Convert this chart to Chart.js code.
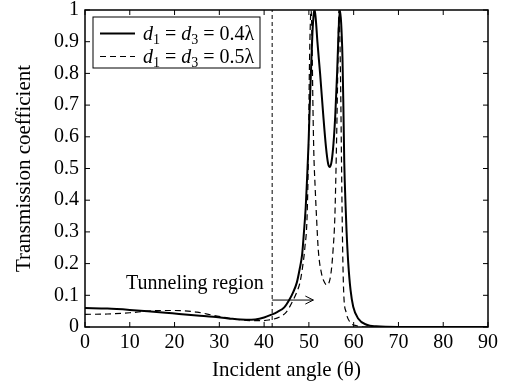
<!DOCTYPE html>
<html>
<head>
<meta charset="utf-8">
<script src="https://cdn.jsdelivr.net/npm/chart.js@4"></script>
<style>
  html, body { margin: 0; padding: 0; background: #fff; }
  #caja { width: 510px; height: 392px; }
</style>
</head>
<body>
<div id="caja"><canvas id="grafica"></canvas></div>
<script>
// Datos (ángulo en grados, coeficiente de transmisión)
const anguloSolida = [0, 5, 10, 14, 18, 21, 25, 28.6, 32, 36, 38, 40, 41.5, 43, 44.5, 45.6, 46.5, 47.3, 47.9, 48.5,
  48.9, 49.3, 49.6, 49.9, 50.2, 50.5, 50.8, 51.1, 51.3, 51.6, 51.9, 52.5, 53.2, 53.8, 54.3, 54.7, 55.1, 55.5, 55.9, 56.3,
  56.6, 56.9, 57.2, 57.5, 57.7, 57.9, 58.2, 58.4, 58.8, 59.3, 59.9, 61, 62.9, 65, 70, 80, 90];
const transSolida = [0.060, 0.058, 0.054, 0.050, 0.045, 0.041, 0.036, 0.032, 0.027, 0.023, 0.024, 0.030, 0.038, 0.048, 0.062, 0.085, 0.11, 0.14, 0.18, 0.23,
  0.30, 0.38, 0.47, 0.57, 0.70, 0.82, 0.93, 0.99, 1.0, 0.96, 0.90, 0.80, 0.67, 0.57, 0.515, 0.505, 0.525, 0.58, 0.67, 0.80,
  0.92, 1.0, 0.96, 0.85, 0.70, 0.52, 0.38, 0.306, 0.20, 0.117, 0.064, 0.027, 0.007, 0.002, 0, 0, 0];

const anguloDiscontinua = [0, 5, 10, 14, 17, 20, 23, 25, 28.6, 32, 36, 39, 41, 43.5, 45, 46.5, 47.3, 48, 48.6, 49.1,
  49.6, 49.9, 50.1, 50.35, 50.5, 50.7, 50.9, 51.1, 51.4, 51.7, 52.1, 52.8, 53.6, 54.0, 54.7, 55.1, 55.4, 55.8, 56.2, 56.5,
  56.7, 56.9, 57.1, 57.3, 57.45, 57.6, 57.8, 58.3, 59.2, 60.7, 63, 70, 90];
const transDiscontinua = [0.040, 0.041, 0.045, 0.050, 0.052, 0.052, 0.050, 0.047, 0.037, 0.028, 0.021, 0.020, 0.022, 0.032, 0.048, 0.085, 0.11, 0.14, 0.19, 0.25,
  0.35, 0.55, 0.80, 0.97, 1.0, 0.90, 0.70, 0.55, 0.44, 0.348, 0.243, 0.17, 0.138, 0.132, 0.15, 0.19, 0.243, 0.348, 0.60, 0.85,
  1.0, 0.92, 0.75, 0.50, 0.33, 0.20, 0.10, 0.047, 0.015, 0.004, 0, 0, 0];

const grosores = ['0.4λ', '0.5λ'];
const etiquetasX = ['0', '10', '20', '30', '40', '50', '60', '70', '80', '90'];
const etiquetasY = ['0', '0.1', '0.2', '0.3', '0.4', '0.5', '0.6', '0.7', '0.8', '0.9', '1'];

// Anotación: ángulo crítico y flecha de la región de efecto túnel
const anguloCritico = 41.8;
const flechaHasta = 51;
const flechaY = 0.085;
const textoTunel = 'Tunneling region';

const FUENTE = '"Liberation Serif", "Times New Roman", serif';

const aPuntos = (xs, ys) => xs.map((x, i) => ({ x: x, y: ys[i] }));

// Dibuja "d1 = d3 = ..." con d en cursiva y subíndices
function textoLeyenda(ctx, x, y, grosor) {
  const partes = [
    { t: 'd', f: 'italic 20px ' + FUENTE, dy: 0 },
    { t: '1', f: '14px ' + FUENTE, dy: 4 },
    { t: ' = ', f: '20px ' + FUENTE, dy: 0 },
    { t: 'd', f: 'italic 20px ' + FUENTE, dy: 0 },
    { t: '3', f: '14px ' + FUENTE, dy: 4 },
    { t: ' = ' + grosor, f: '20px ' + FUENTE, dy: 0 }
  ];
  ctx.textAlign = 'left';
  ctx.textBaseline = 'alphabetic';
  partes.forEach(p => {
    ctx.font = p.f;
    ctx.fillText(p.t, x, y + p.dy);
    x += ctx.measureText(p.t).width;
  });
}

const extras = {
  id: 'extras',
  afterDatasetsDraw(chart) {
    const ctx = chart.ctx;
    const a = chart.chartArea;
    const ex = chart.scales.x, ey = chart.scales.y;
    ctx.save();
    ctx.strokeStyle = '#000';
    ctx.fillStyle = '#000';

    // línea vertical discontinua del ángulo crítico
    const xc = ex.getPixelForValue(anguloCritico);
    ctx.lineWidth = 1;
    ctx.setLineDash([4, 3]);
    ctx.beginPath();
    ctx.moveTo(xc, ey.getPixelForValue(0));
    ctx.lineTo(xc, ey.getPixelForValue(1));
    ctx.stroke();
    ctx.setLineDash([]);

    // flecha
    const yf = ey.getPixelForValue(flechaY);
    const xf = ex.getPixelForValue(flechaHasta);
    ctx.beginPath();
    ctx.moveTo(xc, yf);
    ctx.lineTo(xf, yf);
    ctx.moveTo(xf - 8, yf - 4);
    ctx.lineTo(xf, yf);
    ctx.lineTo(xf - 8, yf + 4);
    ctx.stroke();

    // texto
    ctx.font = '20px ' + FUENTE;
    ctx.textAlign = 'right';
    ctx.textBaseline = 'alphabetic';
    ctx.fillText(textoTunel, ex.getPixelForValue(39.9), ey.getPixelForValue(0.119));

    // marco y marcas hacia dentro
    ctx.lineWidth = 1.5;
    ctx.strokeRect(a.left, a.top, a.right - a.left, a.bottom - a.top);
    ctx.lineWidth = 1;
    ctx.beginPath();
    ex.ticks.forEach(t => {
      const p = ex.getPixelForValue(t.value);
      ctx.moveTo(p, a.bottom); ctx.lineTo(p, a.bottom - 5);
      ctx.moveTo(p, a.top); ctx.lineTo(p, a.top + 5);
    });
    ey.ticks.forEach(t => {
      const p = ey.getPixelForValue(t.value);
      ctx.moveTo(a.left, p); ctx.lineTo(a.left + 5, p);
      ctx.moveTo(a.right, p); ctx.lineTo(a.right - 5, p);
    });
    ctx.stroke();

    // leyenda
    const lx = a.left + 8, ly = a.top + 7, lw = 167, lh = 51;
    ctx.fillStyle = '#fff';
    ctx.fillRect(lx, ly, lw, lh);
    ctx.lineWidth = 1;
    ctx.strokeRect(lx, ly, lw, lh);
    chart.data.datasets.forEach((ds, i) => {
      const yy = ly + 16.5 + i * 23;
      ctx.strokeStyle = ds.borderColor;
      ctx.lineWidth = ds.borderWidth;
      ctx.setLineDash(ds.borderDash || []);
      ctx.beginPath();
      ctx.moveTo(lx + 7, yy);
      ctx.lineTo(lx + 42, yy);
      ctx.stroke();
      ctx.setLineDash([]);
      ctx.fillStyle = '#000';
      textoLeyenda(ctx, lx + 50, yy + 6, grosores[i]);
    });
    ctx.restore();
  }
};

new Chart(document.getElementById('grafica'), {
  type: 'line',
  data: {
    datasets: [{
      label: 'd1 = d3 = ' + grosores[0],
      data: aPuntos(anguloSolida, transSolida),
      borderColor: '#000',
      borderWidth: 2,
      pointRadius: 0,
      fill: false,
      cubicInterpolationMode: 'monotone'
    }, {
      label: 'd1 = d3 = ' + grosores[1],
      data: aPuntos(anguloDiscontinua, transDiscontinua),
      borderColor: '#000',
      borderWidth: 1.2,
      borderDash: [6, 4],
      pointRadius: 0,
      fill: false,
      cubicInterpolationMode: 'monotone'
    }]
  },
  options: {
    responsive: true,
    maintainAspectRatio: false,
    animation: false,
    layout: { padding: { top: 10, right: 22, left: 0, bottom: 0 } },
    plugins: {
      legend: { display: false },
      tooltip: { enabled: false }
    },
    scales: {
      x: {
        type: 'linear',
        min: 0, max: 90,
        grid: { display: false, drawTicks: false },
        border: { display: false },
        ticks: {
          stepSize: 10,
          padding: 4,
          color: '#000',
          font: { family: FUENTE, size: 20 },
          callback: (v, i) => etiquetasX[i]
        },
        title: {
          display: true,
          text: 'Incident angle (θ)',
          color: '#000',
          font: { family: FUENTE, size: 21 },
          padding: { top: 0, bottom: 9 }
        },
        afterFit: s => { s.height = 65; s.paddingLeft = 0; s.paddingRight = 0; }
      },
      y: {
        min: 0, max: 1,
        grid: { display: false, drawTicks: false },
        border: { display: false },
        ticks: {
          stepSize: 0.1,
          padding: 6,
          color: '#000',
          font: { family: FUENTE, size: 20 },
          callback: (v, i) => etiquetasY[i]
        },
        title: {
          display: true,
          text: 'Transmission coefficient',
          color: '#000',
          font: { family: FUENTE, size: 21 },
          padding: { top: 12, bottom: 0 }
        },
        afterFit: s => { s.width = 85; s.paddingTop = 0; s.paddingBottom = 0; }
      }
    }
  },
  plugins: [extras]
});
</script>
</body>
</html>
